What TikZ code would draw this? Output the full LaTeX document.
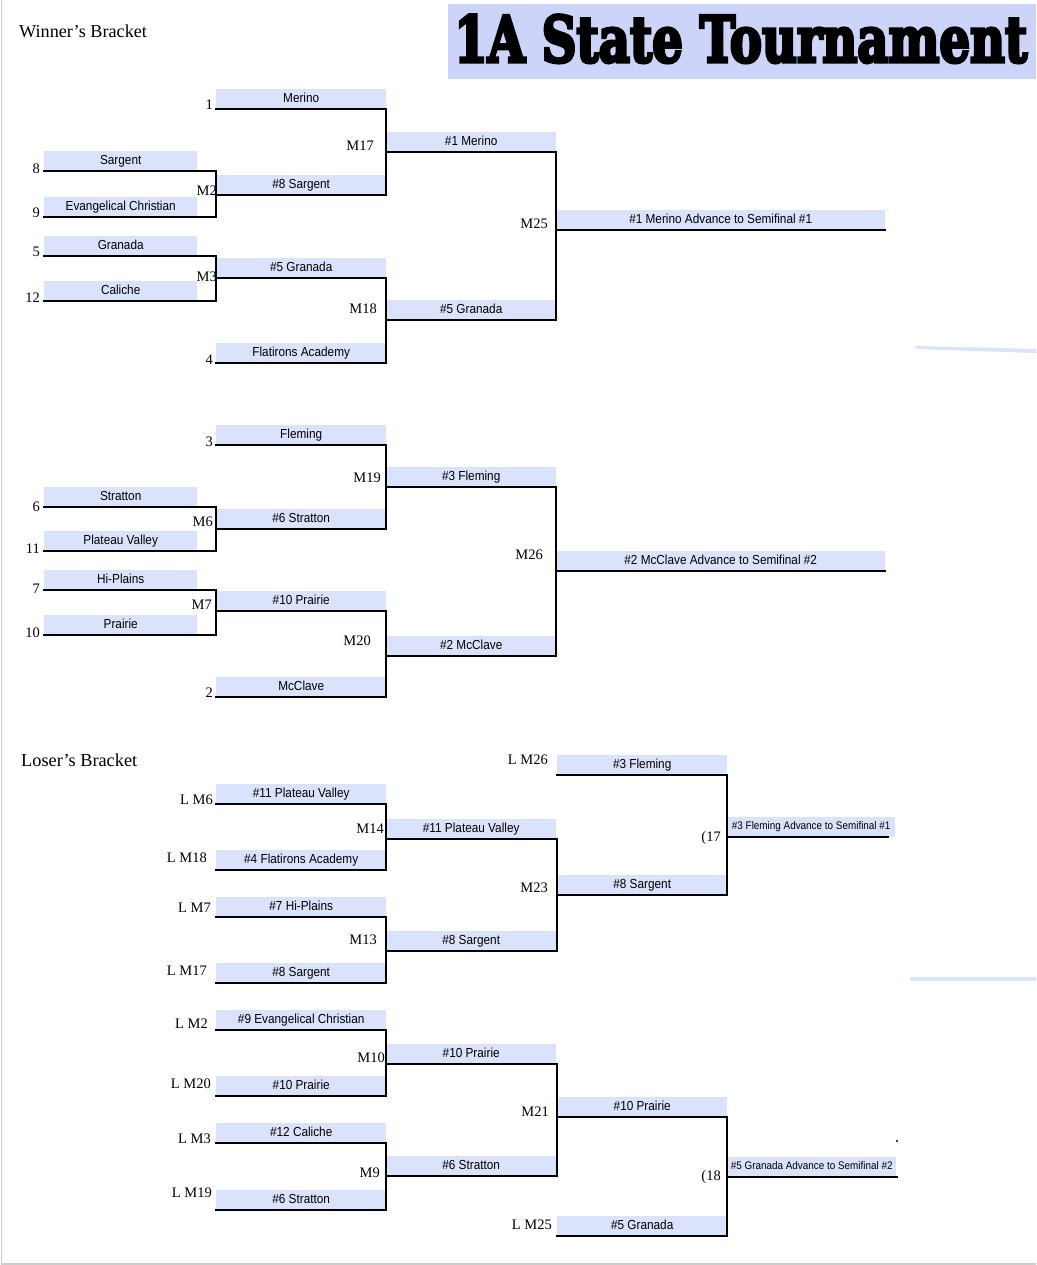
\documentclass[tikz,border=0pt]{standalone}
\usepackage{fontspec}
\usepackage{graphicx}
\setmainfont{Liberation Serif}
\newfontfamily\cellfont{Liberation Sans}[FakeStretch=0.9]
\newfontfamily\titlefont{DejaVu Serif}[FakeBold=5.5]
\definecolor{cellblue}{RGB}{219,226,252}
\definecolor{titleblue}{RGB}{204,212,250}
\definecolor{edgegray}{RGB}{205,205,205}
\tikzset{
  cell/.style={fill=cellblue, inner sep=0pt, anchor=south west, minimum height=20pt,
    text height=9.3pt, text depth=2pt, font=\cellfont\fontsize{13.1pt}{15pt}\selectfont},
  colA/.style={cell, minimum width=153pt},
  colB/.style={cell, minimum width=170pt},
  colD/.style={cell, minimum width=329pt},
  colE/.style={cell, minimum width=168pt, text height=7.8pt, text depth=1.8pt,
    font=\cellfont\fontsize{11pt}{13pt}\selectfont},
  lab/.style={inner sep=0pt, anchor=base east, font=\fontsize{14.5pt}{17pt}\selectfont},
  head/.style={inner sep=0pt, anchor=base west},
  br/.style={line width=1.5pt, black, line join=miter, line cap=rect},
}
\begin{document}
\begin{tikzpicture}[x=1pt, y=-1pt]
\useasboundingbox (0,0) rectangle (1036,1265);
% page edge
\draw[edgegray, line width=1.5pt] (1.5,0) -- (1.5,1264) -- (1036,1264);
% title
\node[fill=titleblue, minimum width=588pt, minimum height=75pt, inner sep=0pt, anchor=north west] (titlebox) at (448,4) {};
\node[inner sep=0pt, anchor=south west] (title) at (454,63) {\resizebox{573pt}{47pt}{\titlefont\bfseries 1A State Tournament}};
\node[head, font=\fontsize{18.2pt}{21pt}\selectfont] (wbh) at (19,38) {Winner’s Bracket};
\node[head, font=\fontsize{18.3pt}{21pt}\selectfont] (lbh) at (21,766) {Loser’s Bracket};
% stray marks
\fill[cellblue] (915,346) -- (1036,349) -- (1036,353) -- (916,349) -- cycle;
\fill[cellblue] (910,977) -- (1036,977) -- (1036,981) -- (910,981) -- cycle;
\fill[black] (897,1141) circle (1.1pt);

% ---------- Winner's bracket, upper ----------
\node[colB] (b1) at (216,109) {Merino};
\node[colA] (a8) at (44,171) {Sargent};
\node[colA] (a9) at (44,217) {Evangelical Christian};
\node[colB] (b2) at (216,195) {\#8 Sargent};
\node[colA] (a5) at (44,256) {Granada};
\node[colA] (a12) at (44,301) {Caliche};
\node[colB] (b3) at (216,278) {\#5 Granada};
\node[colB] (b4) at (216,363) {Flatirons Academy};
\node[colB] (c1) at (386,152) {\#1 Merino};
\node[colB] (c2) at (386,320) {\#5 Granada};
\node[colD] (d1) at (556,230) {\#1 Merino Advance to Semifinal \#1};

\draw[br] (a8.south west) -| (b2.south west);
\draw[br] (a9.south west) -| (b2.south west);
\draw[br] (a5.south west) -| (b3.south west);
\draw[br] (a12.south west) -| (b3.south west);
\draw[br] (b1.south west) -| (c1.south west);
\draw[br] (b2.south west) -| (c1.south west);
\draw[br] (b3.south west) -| (c2.south west);
\draw[br] (b4.south west) -| (c2.south west);
\draw[br] (c1.south west) -| (d1.south west);
\draw[br] (c2.south west) -| (d1.south west);
\draw[br] (d1.south west) -- (d1.south east);

\node[lab] (s1) at (213,110) {1};
\node[lab] (s8) at (40,174) {8};
\node[lab] (s9) at (40,218) {9};
\node[lab] (s5) at (40,257) {5};
\node[lab] (s12) at (40,302) {12};
\node[lab] (s4) at (213,364) {4};
\node[lab] (m2) at (217,196) {M2};
\node[lab] (m3) at (217,281) {M3};
\node[lab] (m17) at (374,151) {M17};
\node[lab] (m18) at (377,313) {M18};
\node[lab] (m25) at (548,229) {M25};

% ---------- Winner's bracket, lower ----------
\node[colB] (b5) at (216,445) {Fleming};
\node[colA] (a6) at (44,507) {Stratton};
\node[colA] (a11) at (44,551) {Plateau Valley};
\node[colB] (b6) at (216,529) {\#6 Stratton};
\node[colA] (a7) at (44,590) {Hi-Plains};
\node[colA] (a10) at (44,635) {Prairie};
\node[colB] (b7) at (216,611) {\#10 Prairie};
\node[colB] (b8) at (216,697) {McClave};
\node[colB] (c3) at (386,487) {\#3 Fleming};
\node[colB] (c4) at (386,656) {\#2 McClave};
\node[colD] (d2) at (556,571) {\#2 McClave Advance to Semifinal \#2};

\draw[br] (a6.south west) -| (b6.south west);
\draw[br] (a11.south west) -| (b6.south west);
\draw[br] (a7.south west) -| (b7.south west);
\draw[br] (a10.south west) -| (b7.south west);
\draw[br] (b5.south west) -| (c3.south west);
\draw[br] (b6.south west) -| (c3.south west);
\draw[br] (b7.south west) -| (c4.south west);
\draw[br] (b8.south west) -| (c4.south west);
\draw[br] (c3.south west) -| (d2.south west);
\draw[br] (c4.south west) -| (d2.south west);
\draw[br] (d2.south west) -- (d2.south east);

\node[lab] (s3) at (213,446) {3};
\node[lab] (s6) at (40,511) {6};
\node[lab] (s11) at (40,553) {11};
\node[lab] (s7) at (40,593) {7};
\node[lab] (s10) at (40,637) {10};
\node[lab] (s2) at (213,697) {2};
\node[lab] (m6) at (213,526) {M6};
\node[lab] (m7) at (212,609) {M7};
\node[lab] (m19) at (381,482) {M19};
\node[lab] (m20) at (371,645) {M20};
\node[lab] (m26) at (543,559) {M26};

% ---------- Loser's bracket, upper ----------
\node[colB] (lb1) at (216,804) {\#11 Plateau Valley};
\node[colB] (lb2) at (216,870) {\#4 Flatirons Academy};
\node[colB] (lc1) at (386,839) {\#11 Plateau Valley};
\node[colB] (lb3) at (216,917) {\#7 Hi-Plains};
\node[colB] (lb4) at (216,983) {\#8 Sargent};
\node[colB] (lc2) at (386,951) {\#8 Sargent};
\node[colB] (ld1) at (557,775) {\#3 Fleming};
\node[colB] (ld2) at (557,895) {\#8 Sargent};
\node[colE] (le1) at (727,837) {\#3 Fleming Advance to Semifinal \#1};
\coordinate (le1end) at (888,837);

\draw[br] (lb1.south west) -| (lc1.south west);
\draw[br] (lb2.south west) -| (lc1.south west);
\draw[br] (lb3.south west) -| (lc2.south west);
\draw[br] (lb4.south west) -| (lc2.south west);
\draw[br] (lc1.south west) -| (ld2.south west);
\draw[br] (lc2.south west) -| (ld2.south west);
\draw[br] (ld1.south west) -| (le1.south west);
\draw[br] (ld2.south west) -| (le1.south west);
\draw[br] (le1.south west) -- (le1end);

\node[lab] (lm26) at (548,764) {L M26};
\node[lab] (lm6) at (213,804) {L M6};
\node[lab] (lm18) at (207,862) {L M18};
\node[lab] (m14) at (384,833) {M14};
\node[lab] (lm7) at (211,912) {L M7};
\node[lab] (m13) at (377,944) {M13};
\node[lab] (lm17) at (207,975) {L M17};
\node[lab] (m23) at (548,892) {M23};
\node[lab] (p17) at (721,841) {(17};

% ---------- Loser's bracket, lower ----------
\node[colB] (lb5) at (216,1030) {\#9 Evangelical Christian};
\node[colB] (lb6) at (216,1096) {\#10 Prairie};
\node[colB] (lc3) at (386,1064) {\#10 Prairie};
\node[colB] (lb7) at (216,1143) {\#12 Caliche};
\node[colB] (lb8) at (216,1210) {\#6 Stratton};
\node[colB] (lc4) at (386,1176) {\#6 Stratton};
\node[colB] (ld3) at (557,1117) {\#10 Prairie};
\node[colB] (ld4) at (557,1236) {\#5 Granada};
\node[colE, minimum width=169pt] (le2) at (727,1177) {\#5 Granada Advance to Semifinal \#2};
\coordinate (le2end) at (897,1177);

\draw[br] (lb5.south west) -| (lc3.south west);
\draw[br] (lb6.south west) -| (lc3.south west);
\draw[br] (lb7.south west) -| (lc4.south west);
\draw[br] (lb8.south west) -| (lc4.south west);
\draw[br] (lc3.south west) -| (ld3.south west);
\draw[br] (lc4.south west) -| (ld3.south west);
\draw[br] (ld3.south west) -| (le2.south west);
\draw[br] (ld4.south west) -| (le2.south west);
\draw[br] (le2.south west) -- (le2end);

\node[lab] (lm2) at (208,1028) {L M2};
\node[lab] (m10) at (385,1062) {M10};
\node[lab] (lm20) at (211,1088) {L M20};
\node[lab] (lm3) at (211,1143) {L M3};
\node[lab] (m9) at (380,1177) {M9};
\node[lab] (lm19) at (212,1197) {L M19};
\node[lab] (m21) at (549,1116) {M21};
\node[lab] (lm25) at (552,1229) {L M25};
\node[lab] (p18) at (721,1180) {(18};
\end{tikzpicture}
\end{document}
